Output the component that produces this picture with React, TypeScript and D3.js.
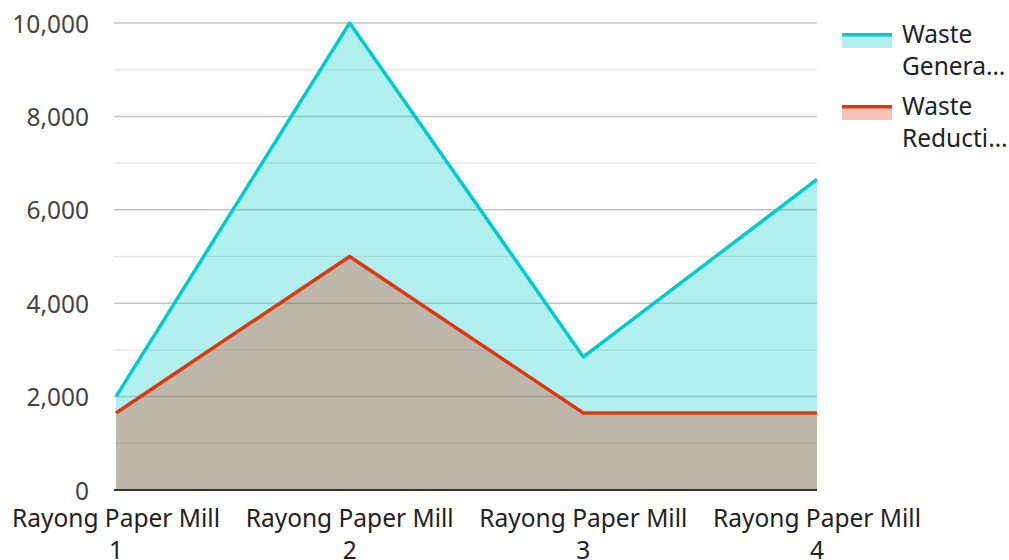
import React, { useEffect, useRef } from 'react';
import * as d3 from 'd3';

const categories = ['Rayong Paper Mill 1', 'Rayong Paper Mill 2', 'Rayong Paper Mill 3', 'Rayong Paper Mill 4'];
const wasteGeneration = [2000, 10000, 2850, 6650];
const wasteReduction = [1650, 5000, 1650, 1650];
const seriesNames = ['Waste Generation', 'Waste Reduction'];
const legendLabels = [['Waste', 'Genera…'], ['Waste', 'Reducti…']];
const majorTicks = [0, 2000, 4000, 6000, 8000, 10000];
const minorTicks = [1000, 3000, 5000, 7000, 9000];

const colors = ['#00cccc', '#dc3912'];
const FONT = '"Noto Sans", "Open Sans", sans-serif';
const FS = '24.5px';

const App: React.FC = () => {
  const svgRef = useRef<SVGSVGElement>(null);

  useEffect(() => {
    if (!svgRef.current) return;
    const svg = d3.select(svgRef.current);
    svg.selectAll('*').remove();

    const x = d3.scalePoint<string>().domain(categories).range([116, 817]);
    const y = d3.scaleLinear().domain([0, 10000]).range([490, 23]);

    // gridlines
    const grid = svg.append('g');
    minorTicks.forEach(t => {
      grid.append('line')
        .attr('x1', 114).attr('x2', 817)
        .attr('y1', y(t)).attr('y2', y(t))
        .attr('stroke', '#e8e8e8').attr('stroke-width', 1.5);
    });
    majorTicks.filter(t => t > 0).forEach(t => {
      grid.append('line')
        .attr('x1', 114).attr('x2', 817)
        .attr('y1', y(t)).attr('y2', y(t))
        .attr('stroke', '#c4c4c4').attr('stroke-width', 1.5);
    });

    const data = [wasteGeneration, wasteReduction];

    // areas
    data.forEach((vals, i) => {
      const area = d3.area<number>()
        .x((_, j) => x(categories[j]) as number)
        .y0(y(0))
        .y1(d => y(d));
      svg.append('path')
        .datum(vals)
        .attr('d', area)
        .attr('fill', colors[i])
        .attr('fill-opacity', 0.3);
    });

    // lines
    data.forEach((vals, i) => {
      const line = d3.line<number>()
        .x((_, j) => x(categories[j]) as number)
        .y(d => y(d));
      svg.append('path')
        .datum(vals)
        .attr('d', line)
        .attr('fill', 'none')
        .attr('stroke', colors[i])
        .attr('stroke-width', 3.5)
        .attr('stroke-linejoin', 'round');
    });

    // baseline
    svg.append('line')
      .attr('x1', 114).attr('x2', 817)
      .attr('y1', y(0)).attr('y2', y(0))
      .attr('stroke', '#333').attr('stroke-width', 2);

    // y labels
    majorTicks.forEach(t => {
      svg.append('text')
        .attr('x', 89).attr('y', y(t))
        .attr('text-anchor', 'end')
        .attr('dominant-baseline', 'central')
        .attr('fill', '#444')
        .style('font-family', FONT)
        .style('font-size', FS)
        .text(d3.format(',')(t));
    });

    // x labels (wrapped)
    categories.forEach(c => {
      const parts = [c.replace(/\s+\d+$/, ''), c.match(/\d+$/)![0]];
      parts.forEach((p, k) => {
        svg.append('text')
          .attr('x', x(c) as number).attr('y', 517 + k * 32)
          .attr('text-anchor', 'middle')
          .attr('dominant-baseline', 'central')
          .attr('fill', '#222')
          .style('font-family', FONT)
          .style('font-size', FS)
          .text(p);
      });
    });

    // legend
    seriesNames.forEach((name, i) => {
      const top = 33 + i * 72;
      const g = svg.append('g');
      g.append('rect')
        .attr('x', 842).attr('y', top)
        .attr('width', 50).attr('height', 15)
        .attr('fill', colors[i]).attr('fill-opacity', 0.3);
      g.append('rect')
        .attr('x', 842).attr('y', top)
        .attr('width', 50).attr('height', 3.5)
        .attr('fill', colors[i]);
      legendLabels[i].forEach((l, k) => {
        g.append('text')
          .attr('x', 902).attr('y', top + k * 32)
          .attr('dominant-baseline', 'central')
          .attr('fill', '#222')
          .style('font-family', FONT)
          .style('font-size', FS)
          .text(l);
      });
      g.append('title').text(name);
    });
  }, []);

  return (
    <svg ref={svgRef} width={1009} height={560} viewBox="0 0 1009 560"
      style={{ position: 'absolute', left: 0, top: 0, background: '#fff' }} />
  );
};

export default App;
